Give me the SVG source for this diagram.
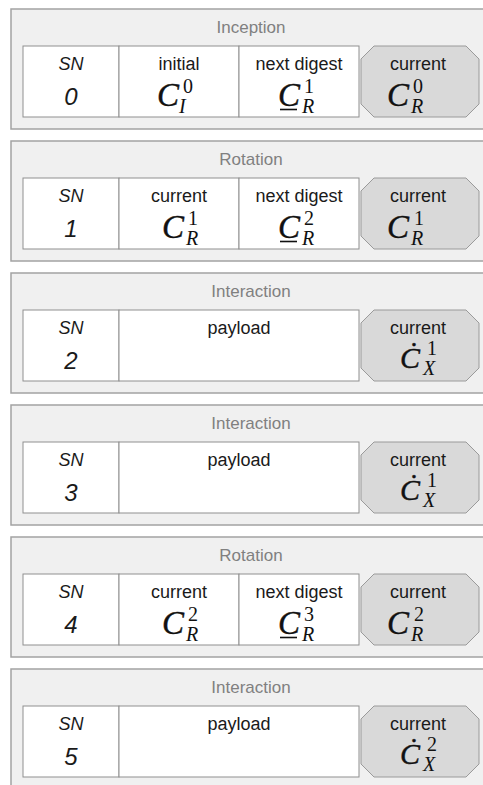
<svg xmlns="http://www.w3.org/2000/svg" xmlns:xlink="http://www.w3.org/1999/xlink" width="483" height="785" viewBox="0 0 483 785">
<style>
.frame{fill:#f0f0f0;stroke:#a3a3a3;stroke-width:1.5}
.cell{fill:#ffffff;stroke:#8f8f8f;stroke-width:1}
.hex{fill:#d9d9d9;stroke:#9a9a9a;stroke-width:1}
.title{font-family:"Liberation Sans",Arial,sans-serif;font-size:17px;fill:#808080;text-anchor:middle}
.lbl{font-family:"Liberation Sans",Arial,sans-serif;font-size:18px;fill:#1a1a1a;text-anchor:middle}
.sn{font-family:"Liberation Sans",Arial,sans-serif;font-size:18px;font-style:italic;fill:#1a1a1a;text-anchor:middle}
.num{font-family:"Liberation Sans",Arial,sans-serif;font-size:24px;font-style:italic;fill:#1a1a1a;text-anchor:middle}
.C{font-family:"Liberation Serif","Times New Roman",serif;font-size:33px;font-style:italic;fill:#111;stroke:#111;stroke-width:0.4}
.Cd{font-family:"Liberation Serif","Times New Roman",serif;font-size:30px;font-style:italic;fill:#111;stroke:#111;stroke-width:0.4}
.sup{font-family:"Liberation Serif","Times New Roman",serif;font-size:20px;fill:#111}
.sub{font-family:"Liberation Serif","Times New Roman",serif;font-size:20px;font-style:italic;fill:#111}
.ul{stroke:#111;stroke-width:1.6}
</style>
<defs>
<polygon id="hexshape" class="hex" points="374,37 466,37 479,50 479,95 466,108 374,108 361,95 361,50"/>
</defs>
<g id="connectors"/>

<g id="block0" transform="translate(0,9)">
<rect class="frame" x="11" y="0" width="490" height="120"/>
<text class="title" x="251" y="24">Inception</text>
<rect class="cell" x="23" y="37" width="96" height="71"/>
<rect class="cell" x="119" y="37" width="120" height="71"/>
<rect class="cell" x="239" y="37" width="120" height="71"/>
<use xlink:href="#hexshape"/>
<text class="sn" x="71" y="61">SN</text>
<text class="num" x="71" y="96">0</text>
<text class="lbl" x="179" y="61">initial</text>
<text class="C" x="157" y="97">C</text><text class="sup" x="183" y="84">0</text><text class="sub" x="179" y="104">I</text>
<text class="lbl" x="299" y="61">next digest</text>
<text class="C" x="278" y="97">C</text><line class="ul" x1="280" y1="100.5" x2="297" y2="100.5"/><text class="sup" x="304" y="84">1</text><text class="sub" x="302" y="104">R</text>
<text class="lbl" x="418" y="61">current</text>
<text class="C" x="387" y="97">C</text><text class="sup" x="413" y="84">0</text><text class="sub" x="411" y="104">R</text>
</g>

<g id="block1" transform="translate(0,141)">
<rect class="frame" x="11" y="0" width="490" height="120"/>
<text class="title" x="251" y="24">Rotation</text>
<rect class="cell" x="23" y="37" width="96" height="71"/>
<rect class="cell" x="119" y="37" width="120" height="71"/>
<rect class="cell" x="239" y="37" width="120" height="71"/>
<use xlink:href="#hexshape"/>
<text class="sn" x="71" y="61">SN</text>
<text class="num" x="71" y="96">1</text>
<text class="lbl" x="179" y="61">current</text>
<text class="C" x="162" y="97">C</text><text class="sup" x="188" y="84">1</text><text class="sub" x="186" y="104">R</text>
<text class="lbl" x="299" y="61">next digest</text>
<text class="C" x="278" y="97">C</text><line class="ul" x1="280" y1="100.5" x2="297" y2="100.5"/><text class="sup" x="304" y="84">2</text><text class="sub" x="302" y="104">R</text>
<text class="lbl" x="418" y="61">current</text>
<text class="C" x="387" y="97">C</text><text class="sup" x="414" y="84">1</text><text class="sub" x="411" y="104">R</text>
</g>

<g id="block2" transform="translate(0,273)">
<rect class="frame" x="11" y="0" width="490" height="120"/>
<text class="title" x="251" y="24">Interaction</text>
<rect class="cell" x="23" y="37" width="96" height="71"/>
<rect class="cell" x="119" y="37" width="240" height="71"/>
<use xlink:href="#hexshape"/>
<text class="sn" x="71" y="61">SN</text>
<text class="num" x="71" y="96">2</text>
<text class="lbl" x="239" y="61">payload</text>
<text class="lbl" x="418" y="61">current</text>
<text class="Cd" x="400" y="95">Ċ</text><text class="sup" x="427" y="82">1</text><text class="sub" x="423" y="102">X</text>
</g>

<g id="block3" transform="translate(0,405)">
<rect class="frame" x="11" y="0" width="490" height="120"/>
<text class="title" x="251" y="24">Interaction</text>
<rect class="cell" x="23" y="37" width="96" height="71"/>
<rect class="cell" x="119" y="37" width="240" height="71"/>
<use xlink:href="#hexshape"/>
<text class="sn" x="71" y="61">SN</text>
<text class="num" x="71" y="96">3</text>
<text class="lbl" x="239" y="61">payload</text>
<text class="lbl" x="418" y="61">current</text>
<text class="Cd" x="400" y="95">Ċ</text><text class="sup" x="427" y="82">1</text><text class="sub" x="423" y="102">X</text>
</g>

<g id="block4" transform="translate(0,537)">
<rect class="frame" x="11" y="0" width="490" height="120"/>
<text class="title" x="251" y="24">Rotation</text>
<rect class="cell" x="23" y="37" width="96" height="71"/>
<rect class="cell" x="119" y="37" width="120" height="71"/>
<rect class="cell" x="239" y="37" width="120" height="71"/>
<use xlink:href="#hexshape"/>
<text class="sn" x="71" y="61">SN</text>
<text class="num" x="71" y="96">4</text>
<text class="lbl" x="179" y="61">current</text>
<text class="C" x="162" y="97">C</text><text class="sup" x="188" y="84">2</text><text class="sub" x="186" y="104">R</text>
<text class="lbl" x="299" y="61">next digest</text>
<text class="C" x="278" y="97">C</text><line class="ul" x1="280" y1="100.5" x2="297" y2="100.5"/><text class="sup" x="304" y="84">3</text><text class="sub" x="302" y="104">R</text>
<text class="lbl" x="418" y="61">current</text>
<text class="C" x="387" y="97">C</text><text class="sup" x="414" y="84">2</text><text class="sub" x="411" y="104">R</text>
</g>

<g id="block5" transform="translate(0,669)">
<rect class="frame" x="11" y="0" width="490" height="130"/>
<text class="title" x="251" y="24">Interaction</text>
<rect class="cell" x="23" y="37" width="96" height="71"/>
<rect class="cell" x="119" y="37" width="240" height="71"/>
<use xlink:href="#hexshape"/>
<text class="sn" x="71" y="61">SN</text>
<text class="num" x="71" y="96">5</text>
<text class="lbl" x="239" y="61">payload</text>
<text class="lbl" x="418" y="61">current</text>
<text class="Cd" x="400" y="95">Ċ</text><text class="sup" x="427" y="82">2</text><text class="sub" x="423" y="102">X</text>
</g>
</svg>
